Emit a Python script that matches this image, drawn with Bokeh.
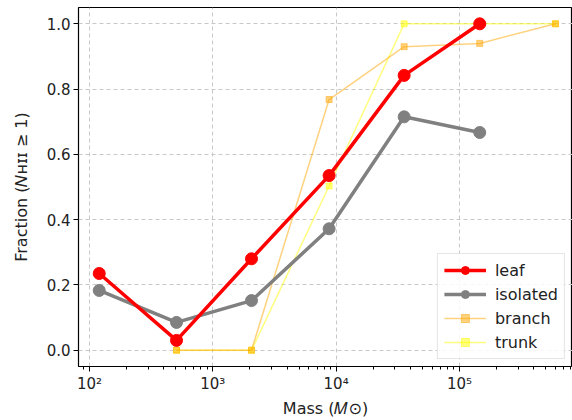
from bokeh.plotting import figure
from bokeh.models import Range1d, FixedTicker, Legend, LegendItem, LogTicker
from bokeh.embed import file_html
from bokeh.resources import INLINE

# ---- data ----
leaf_mass = [120, 508, 2060, 8770, 35600, 146000]
leaf = [0.235, 0.030, 0.280, 0.535, 0.842, 1.0]
isolated_mass = [120, 508, 2060, 8770, 35600, 146000]
isolated = [0.183, 0.085, 0.152, 0.372, 0.715, 0.667]
branch_mass = [508, 2060, 8770, 35600, 146000, 600000]
branch = [0.0, 0.0, 0.768, 0.930, 0.940, 1.0]
trunk_mass = [508, 2060, 8770, 35600, 146000, 600000]
trunk = [0.0, 0.0, 0.503, 1.0, 1.0, 1.0]

x_ticks = [100, 1000, 10000, 100000]
x_tick_labels = ["10²", "10³", "10⁴", "10⁵"]
y_ticks = [0.0, 0.2, 0.4, 0.6, 0.8, 1.0]
y_tick_labels = ["0.0", "0.2", "0.4", "0.6", "0.8", "1.0"]

FONT = "DejaVu Sans"

p = figure(width=572, height=420, x_axis_type="log",
           x_range=Range1d(81.5, 8.25e5), y_range=Range1d(-0.05, 1.05),
           output_backend="svg", toolbar_location=None,
           min_border_left=78, min_border_right=0, min_border_top=7,
           min_border_bottom=40)
p.title = None
p.outline_line_color = "black"
p.outline_line_width = 1.2

# trunk / branch (faint) first, then isolated and leaf on top
r_trunk_l = p.line(trunk_mass, trunk, line_color="yellow", line_alpha=0.5, line_width=1.5)
r_trunk_m = p.scatter(trunk_mass, trunk, marker="square", size=6, color="yellow", alpha=0.5)
r_branch_l = p.line(branch_mass, branch, line_color="orange", line_alpha=0.5, line_width=1.5)
r_branch_m = p.scatter(branch_mass, branch, marker="square", size=6, color="orange", alpha=0.5)
r_iso_l = p.line(isolated_mass, isolated, line_color="gray", line_width=3.5)
r_iso_m = p.scatter(isolated_mass, isolated, size=12, color="gray")
r_leaf_l = p.line(leaf_mass, leaf, line_color="red", line_width=3.5)
r_leaf_m = p.scatter(leaf_mass, leaf, size=12, color="red")

# axes
p.xaxis.ticker = LogTicker(desired_num_ticks=5, num_minor_ticks=10)
p.xaxis.major_label_overrides = {float(t): l for t, l in zip(x_ticks, x_tick_labels)}
p.yaxis.ticker = FixedTicker(ticks=y_ticks)
p.yaxis.major_label_overrides = {float(t): l for t, l in zip(y_ticks, y_tick_labels)}

p.xaxis.axis_label = "Mass (𝑀⊙)"
p.yaxis.axis_label = "Fraction (𝑁ʜɪɪ ≥ 1)"
for ax in (p.xaxis[0], p.yaxis[0]):
    ax.axis_line_color = None
    ax.major_tick_in = 0
    ax.major_tick_out = 5
    ax.minor_tick_in = 0
    ax.minor_tick_out = 3
    ax.major_label_text_font = FONT
    ax.major_label_text_font_size = "15px"
    ax.major_label_text_color = "#222222"
    ax.axis_label_text_font = FONT
    ax.axis_label_text_font_size = "16px"
    ax.axis_label_text_font_style = "normal"
    ax.axis_label_text_color = "#222222"
    ax.major_label_standoff = 3
p.xaxis.axis_label_standoff = 3
p.yaxis.axis_label_standoff = 13
p.yaxis.minor_tick_line_color = None

# grid
for g in (p.xgrid[0], p.ygrid[0]):
    g.grid_line_color = "#c8c8c8"
    g.grid_line_dash = "4 3"
    g.grid_line_width = 1
p.xgrid.ticker = FixedTicker(ticks=x_ticks)
p.ygrid.ticker = FixedTicker(ticks=y_ticks)

legend = Legend(items=[
    LegendItem(label="leaf", renderers=[r_leaf_l, r_leaf_m]),
    LegendItem(label="isolated", renderers=[r_iso_l, r_iso_m]),
    LegendItem(label="branch", renderers=[r_branch_l, r_branch_m]),
    LegendItem(label="trunk", renderers=[r_trunk_l, r_trunk_m]),
], location="bottom_right")
legend.label_text_font = FONT
legend.label_text_font_size = "16px"
legend.label_text_color = "#222222"
legend.glyph_width = 42
legend.glyph_height = 20
legend.label_standoff = 9
legend.spacing = 4
legend.padding = 6
legend.margin = 7
legend.border_line_color = "#cccccc"
legend.background_fill_alpha = 0.85
p.add_layout(legend)

open("out.html", "w").write(file_html(p, INLINE))
